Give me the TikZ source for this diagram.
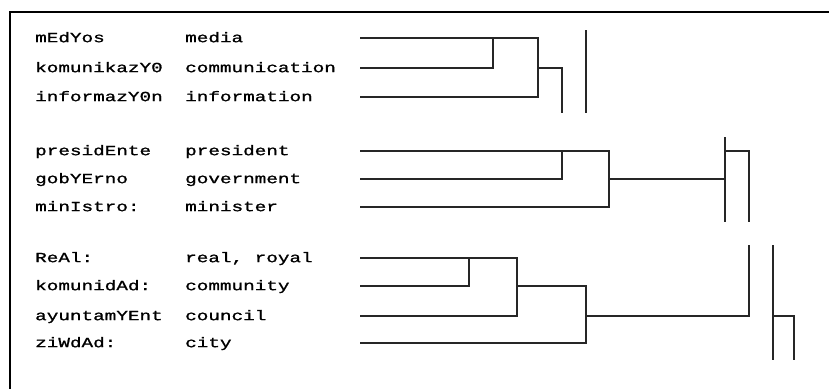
\documentclass[tikz,border=0pt]{standalone}
\usepackage{fontspec}
\newfontfamily\glossfont[FakeStretch=1.38,FakeBold=1.2]{Liberation Mono}
\usetikzlibrary{positioning}
\tikzset{
  word/.style={anchor=mid west,inner sep=0pt,font=\glossfont\fontsize{14}{14}\selectfont},
  branch/.style={line width=1.8pt,black!85}
}

\begin{document}
\begin{tikzpicture}[x=1pt,y=-1pt]
  \useasboundingbox (0,0) rectangle (829,389);
  \draw[line width=2pt] (829,12) -- (10,12) -- (10,389);
  % word pairs and leaf ends
  \foreach \n/\y/\src/\gloss in {a/38/mEdYos/media, b/68/komunikazY0/communication,
      c/97/informazY0n/information, d/151/presidEnte/president, e/179/gobYErno/government,
      f/207/minIstro:/minister, g/258/ReAl:/{real, royal}, h/286/komunidAd:/community,
      i/316/ayuntamYEnt/council, j/343/ziWdAd:/city} {
    \node[word] (s\n) at (35,\y+2) {\src};
    \node[word] (g\n) at (185,\y+2) {\gloss};
    \coordinate (l\n) at (360,\y);
  }
  % first group
  \draw[branch] (lb) -| (493,38);
  \draw[branch] (la) -| (538,97) -- (lc);
  \draw[branch] (538,68) -| (562,113);
  \draw[branch] (586,30) -- (586,113);
  % second group
  \draw[branch] (le) -| (562,151);
  \draw[branch] (ld) -| (609,207) -- (lf);
  \draw[branch] (609,179) -- (725,179);
  \draw[branch] (725,137) -- (725,222);
  \draw[branch] (725,151) -| (749,222);
  % third group
  \draw[branch] (lh) -| (469,258);
  \draw[branch] (lg) -| (517,316) -- (li);
  \draw[branch] (517,286) -| (586,343) -- (lj);
  \draw[branch] (586,316) -| (749,245);
  \draw[branch] (773,245) -- (773,360);
  \draw[branch] (773,316) -| (794,360);
\end{tikzpicture}
\end{document}
